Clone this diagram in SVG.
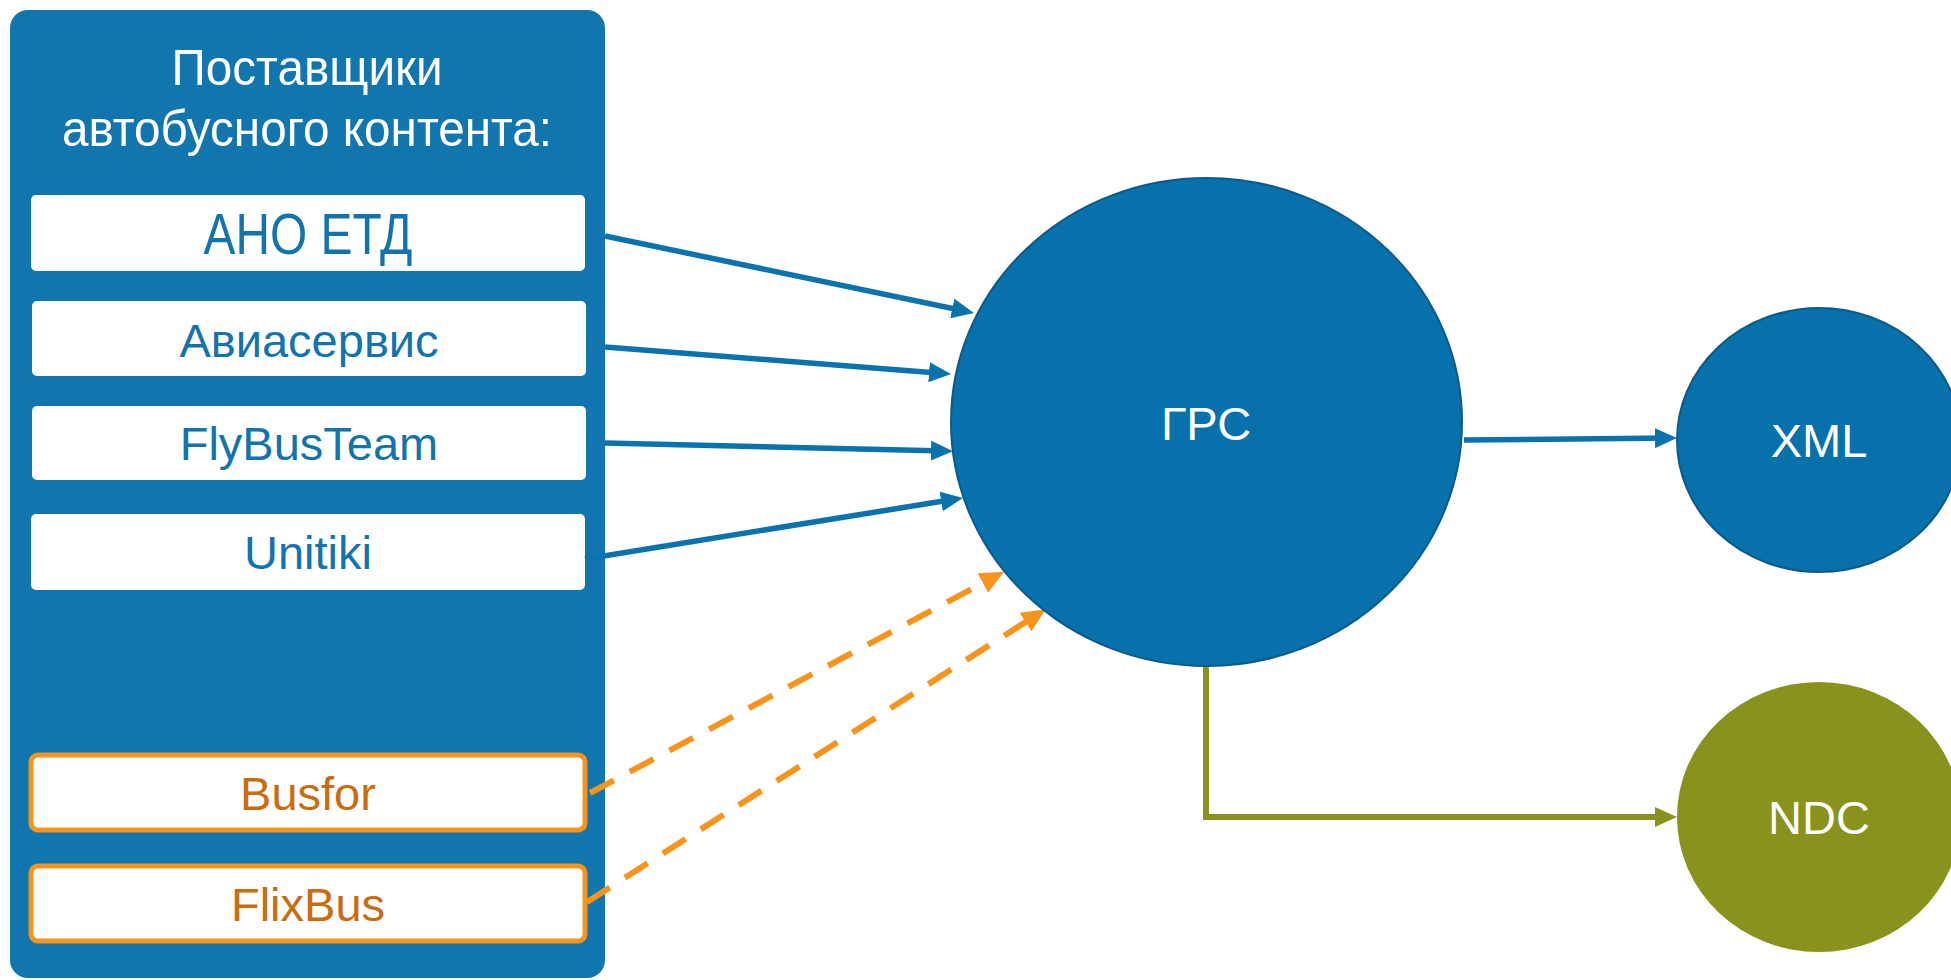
<svg xmlns="http://www.w3.org/2000/svg" width="1951" height="980" viewBox="0 0 1951 980">
<style>
.lbl{font-family:"Liberation Sans",Arial,sans-serif;font-size:47px;text-anchor:middle}
.narrow{font-family:"Liberation Sans Narrow","Liberation Sans",Arial,sans-serif;text-anchor:middle}
.box{fill:#ffffff}
.obox{fill:#ffffff;stroke:#f7941d;stroke-width:5}
.blue-t{fill:#1273ad}
.orange-t{fill:#c96c0e}
.white-t{fill:#ffffff}
.bl{stroke:#0a72ad;stroke-width:5.5;fill:none}
.or{stroke:#f7941d;stroke-width:6;fill:none;stroke-dasharray:27 18}
.gr{stroke:#88921d;stroke-width:6;fill:none}
</style>
<defs>
<marker id="ab" markerUnits="userSpaceOnUse" markerWidth="22" markerHeight="20" refX="15" refY="10" orient="auto"><path d="M0,0 L22,10 L0,20 z" fill="#0a72ad"/></marker>
<marker id="ao" markerUnits="userSpaceOnUse" markerWidth="24" markerHeight="22" refX="16" refY="11" orient="auto"><path d="M0,0 L24,11 L0,22 z" fill="#f7941d"/></marker>
<marker id="ag" markerUnits="userSpaceOnUse" markerWidth="22" markerHeight="20" refX="15" refY="10" orient="auto"><path d="M0,0 L22,10 L0,20 z" fill="#88921d"/></marker>
</defs>

<g id="suppliers">
<rect x="10" y="10" width="595" height="968" rx="18" fill="#1176ae"/>
<text class="narrow white-t" x="307" y="85" font-size="50" textLength="271" lengthAdjust="spacingAndGlyphs">Поставщики</text>
<text class="narrow white-t" x="307" y="146" font-size="50" textLength="490" lengthAdjust="spacingAndGlyphs">автобусного контента:</text>
</g>

<g id="ano-etd">
<rect class="box" x="31" y="195" width="554" height="76" rx="5"/>
<text class="narrow blue-t" x="308" y="254" font-size="57" textLength="209" lengthAdjust="spacingAndGlyphs">АНО ЕТД</text>
</g>
<g id="aviaservis">
<rect class="box" x="32" y="301" width="554" height="75" rx="5"/>
<text class="lbl blue-t" x="309" y="357">Авиасервис</text>
</g>
<g id="flybusteam">
<rect class="box" x="32" y="406" width="554" height="74" rx="5"/>
<text class="lbl blue-t" x="309" y="460">FlyBusTeam</text>
</g>
<g id="unitiki">
<rect class="box" x="31" y="514" width="554" height="76" rx="5"/>
<text class="lbl blue-t" x="308" y="569">Unitiki</text>
</g>
<g id="busfor">
<rect class="obox" x="31" y="755" width="554" height="75" rx="7"/>
<text class="lbl orange-t" x="308" y="810">Busfor</text>
</g>
<g id="flixbus">
<rect class="obox" x="31" y="866" width="554" height="75" rx="7"/>
<text class="lbl orange-t" x="308" y="921">FlixBus</text>
</g>

<g id="connectors">
<line class="bl" x1="605" y1="236" x2="967" y2="311.5" marker-end="url(#ab)"/>
<line class="bl" x1="605" y1="347" x2="944" y2="373.5" marker-end="url(#ab)"/>
<line class="bl" x1="605" y1="443" x2="946" y2="451" marker-end="url(#ab)"/>
<line class="bl" x1="585" y1="559" x2="956" y2="499" marker-end="url(#ab)"/>
<line class="or" x1="590" y1="793" x2="997" y2="575.5" marker-end="url(#ao)"/>
<line class="or" x1="587" y1="902" x2="1039" y2="613.5" marker-end="url(#ao)"/>
<line class="bl" x1="1464" y1="440" x2="1670" y2="438" marker-end="url(#ab)"/>
<polyline class="gr" points="1206,666 1206,817 1670,817" marker-end="url(#ag)"/>
</g>

<g id="grs">
<ellipse cx="1206.5" cy="422" rx="255.5" ry="244" fill="#0671aa" stroke="#0b5a89" stroke-width="2"/>
<text class="lbl white-t" x="1206" y="440" font-size="49">ГРС</text>
</g>
<g id="xml">
<ellipse cx="1819" cy="440" rx="142" ry="132" fill="#0671aa" stroke="#0b5a89" stroke-width="2"/>
<text class="lbl white-t" x="1819" y="457">XML</text>
</g>
<g id="ndc">
<ellipse cx="1819" cy="817" rx="142" ry="135" fill="#88921d"/>
<text class="lbl white-t" x="1819" y="834">NDC</text>
</g>
</svg>
